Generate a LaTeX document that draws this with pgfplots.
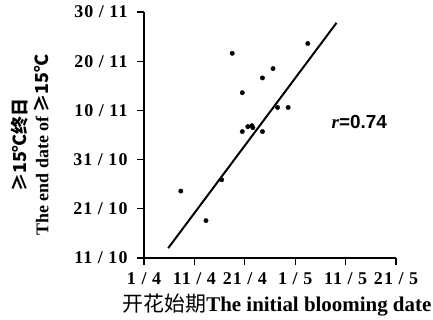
\documentclass[border=0pt]{standalone}
\usepackage{fontspec}
\setmainfont{Liberation Serif}
\newfontfamily\cjk{Noto Sans CJK SC}
\newfontfamily\sans{Liberation Sans}
\newfontfamily\tkfont{Liberation Serif}[LetterSpace=6]
\usepackage{pgfplots}
\pgfplotsset{compat=1.18}
\newcommand\tk[1]{\hbox{\tkfont\fontsize{18}{20}\selectfont\bfseries #1}}
\begin{document}
\begin{tikzpicture}
\useasboundingbox (0,0) rectangle (433bp,320bp);
\begin{axis}[
  at={(144bp,62bp)}, anchor=south west,
  scale only axis, width=252bp, height=246bp,
  xmin=0, xmax=50, ymin=0, ymax=50,
  axis lines*=left,
  axis line style={line width=1.6pt},
  every tick/.style={black, line width=1.4pt},
  tick align=outside,
  major tick length=7bp,
  xtick={0,10,...,50}, ytick={0,10,...,50},
  xticklabels={\tk{1 / 4}, \tk{11 / 4}, \tk{21 / 4}, \tk{1 / 5}, \tk{11 / 5}, \tk{21 / 5}},
  yticklabels={\tk{11 / 10}, \tk{21 / 10}, \tk{31 / 10}, \tk{10 / 11}, \tk{20 / 11}, \tk{30 / 11}},
  every x tick label/.append style={yshift=-4bp, inner xsep=0pt},
  every y tick label/.append style={xshift=-6bp},
  clip=false,
]
\addplot[only marks, mark=*, mark size=2.2bp, black] coordinates {
(17.5,41.6) (32.5,43.6) (25.6,38.5) (23.5,36.6) (19.5,33.6)
(26.5,30.6) (28.6,30.6) (20.6,26.7) (21.4,26.9) (21.6,26.5)
(19.5,25.7) (23.5,25.7) (7.3,13.6) (12.3,7.6) (15.4,15.9)
};
\addplot[black, line width=2pt] coordinates {(4.8,2.0) (38.2,47.8)};
\end{axis}
\node[anchor=west, font=\fontsize{19}{21}\selectfont\bfseries] at (328bp,198bp) {\textit{r}{\sans=0.74}};
\node[rotate=90, align=center, font=\fontsize{18}{22}\selectfont\bfseries] at (30bp,175bp)
  {{\cjk ≥15℃终日}\\The end date of {\cjk ≥15℃}};
\node[font=\fontsize{21}{23}\selectfont\bfseries] at (277bp,15bp) {{\cjk\mdseries 开花始期}The initial blooming date};
\end{tikzpicture}
\end{document}
